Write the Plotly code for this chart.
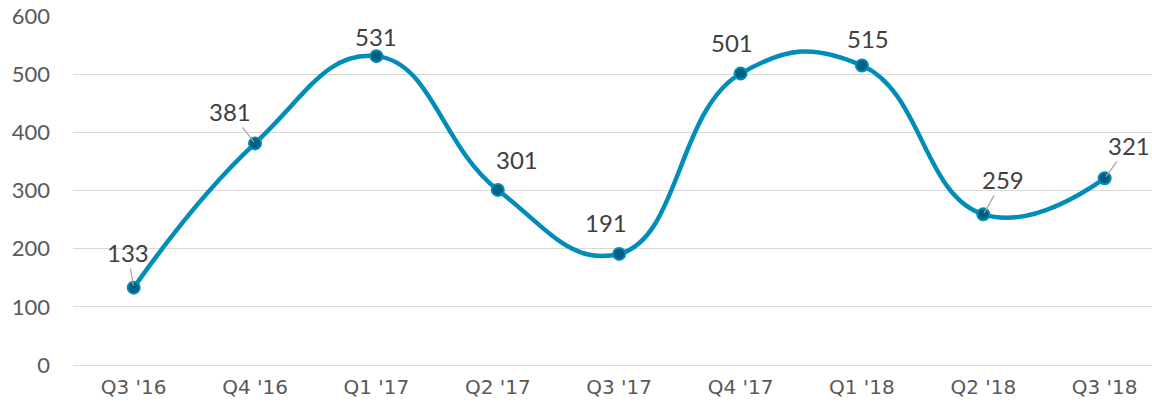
import plotly.graph_objects as go

categories = ["Q3 '16", "Q4 '16", "Q1 '17", "Q2 '17", "Q3 '17", "Q4 '17", "Q1 '18", "Q2 '18", "Q3 '18"]
values = [133, 381, 531, 301, 191, 501, 515, 259, 321]
# label offsets (px) from each point: (dx, dy, leader line?)
label_dx = [-6, -25, 0, 19, -13, -9, 6, 20, 24]
label_dy = [-35, -32, -20, -30, -31, -31, -27, -35, -33]
leader = [True, True, False, False, False, False, False, True, True]

xs = list(range(len(categories)))

fig = go.Figure()
fig.add_trace(go.Scatter(
    x=xs, y=values, mode="lines+markers",
    line=dict(color="#008DB8", width=4.5, shape="spline", smoothing=1.3),
    marker=dict(size=12, color="#005E80", line=dict(color="#008DB8", width=2)),
    hoverinfo="skip", showlegend=False,
))

lab_font = dict(size=24, color="#404040", family="Lato, sans-serif")
anns = []
for x, v, dx, dy, ld in zip(xs, values, label_dx, label_dy, leader):
    if ld:
        anns.append(dict(x=x, y=v, text=str(v), showarrow=True, ax=dx, ay=dy,
                         arrowhead=0, arrowwidth=1.2, arrowcolor="#A6A6A6", standoff=2,
                         font=lab_font))
    else:
        anns.append(dict(x=x, y=v, text=str(v), showarrow=False, xshift=dx, yshift=-dy,
                         font=lab_font))

fig.update_layout(
    width=1152, height=408,
    margin=dict(l=73, r=0, t=16, b=43),
    paper_bgcolor="white", plot_bgcolor="white",
    annotations=anns,
    font=dict(family="Lato, sans-serif", color="#595959"),
    xaxis=dict(tickmode="array", tickvals=xs, ticktext=categories, automargin=False,
               range=[-0.5, 8.39], showgrid=False, zeroline=False, showline=False,
               tickfont=dict(size=20, color="#595959", family="DejaVu Sans, sans-serif"),
               ticks="", ticklabelstandoff=8),
    yaxis=dict(range=[0, 600], dtick=100, showgrid=True, gridcolor="#D9D9D9", gridwidth=1.3,
               automargin=False,
               zeroline=True, zerolinecolor="#D9D9D9", zerolinewidth=1.3, showline=False,
               tickfont=dict(size=22, color="#595959"), ticks="", ticklabelstandoff=22),
)

fig.write_html("out.html", config={"displayModeBar": False},
               post_script="document.body.style.margin='0px';document.body.style.overflow='hidden';")
